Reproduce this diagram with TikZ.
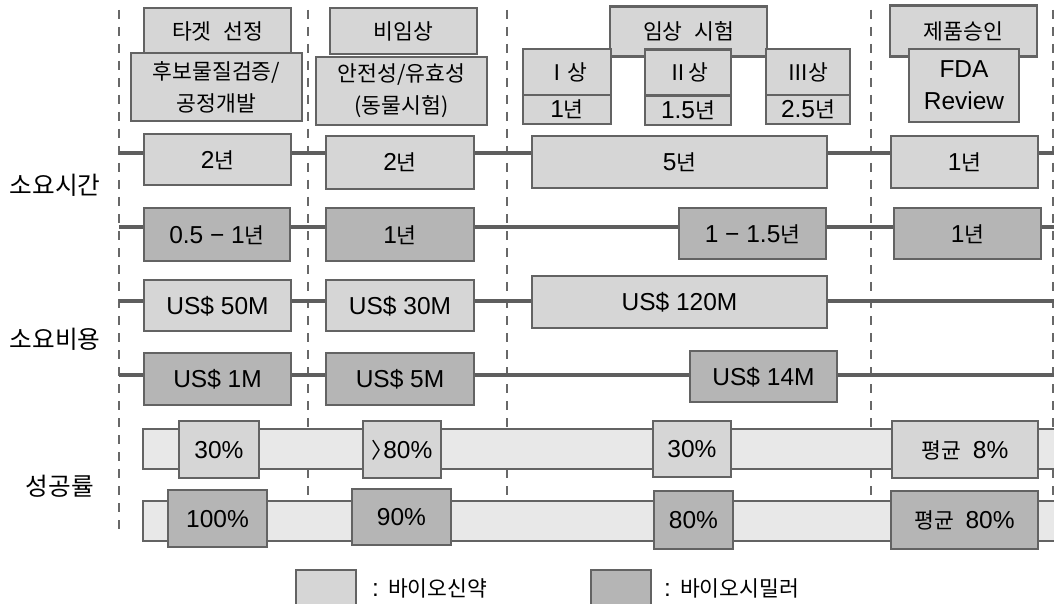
\documentclass[tikz,border=0pt]{standalone}
\usepackage{fontspec}
\setmainfont{Liberation Sans}
\newfontfamily\kr[Scale=0.88,WordSpace=2.4]{Noto Sans CJK KR}
\definecolor{bioC}{HTML}{D6D6D6}
\definecolor{simC}{HTML}{B5B5B5}
\definecolor{bandC}{HTML}{E8E8E8}
\definecolor{boxC}{HTML}{636363}
\definecolor{lineC}{HTML}{5E5E5E}
\definecolor{dashC}{HTML}{686868}
\begin{document}
\begin{tikzpicture}[x=1pt,y=-1pt,
  base/.style={draw=boxC, line width=2.8pt, inner sep=0pt, align=center,
    font=\fontsize{24.5}{32}\selectfont, text height=19pt, text depth=2pt},
  bio/.style={base, fill=bioC},
  sim/.style={base, fill=simC},
  kor/.style={font=\fontsize{24.5}{32}\selectfont\kr},
  twoline/.style={text height={}, text depth={}},
  sz/.style 2 args={minimum width=#1pt, minimum height=#2pt},
  rowline/.style={draw=lineC, line width=3.4pt},
  vline/.style={draw=dashC, line width=2.3pt, dash pattern=on 9pt off 8pt},
  bandst/.style={fill=bandC, draw=boxC, line width=2.8pt},
  lbl/.style={font=\fontsize{28}{32}\selectfont\kr, inner sep=0pt},
  lgtxt/.style={font=\fontsize{24.5}{28}\selectfont, inner sep=0pt, anchor=west}
]
\useasboundingbox (0,0) rectangle (1054,604);
\fill[white] (0,0) rectangle (1054,604);

% stage dividers
\foreach \x in {119,308,507,871,1053} \draw[vline] (\x,10) -- (\x,532);

% success-rate bands
\draw[bandst] (143,429) rectangle (1070,469);
\draw[bandst] (143,501) rectangle (1070,541);

% stage headers
\node[bio,kor,sz={147}{46}] (hTarget) at (217.5,31) {타겟 선정};
\node[bio,kor,twoline,sz={171}{68}] (sCand) at (216.5,87) {후보물질검증/\\공정개발};
\node[bio,kor,sz={147}{46}] (hPre) at (403.5,31) {비임상};
\node[bio,kor,twoline,sz={171}{68}] (sSafe) at (401.5,91) {안전성/유효성\\(동물시험)};
\node[bio,kor,sz={157}{50}] (hClin) at (688.5,31.5) {임상 시험};
\node[bio,kor,sz={88}{46}] (p1) at (567,72) {Ⅰ상};
\node[bio,sz={88}{29}] (p1y) at (567,109.5) {1{\kr 년}};
\node[bio,kor,sz={86}{46}] (p2) at (688,72.5) {Ⅱ상};
\node[bio,sz={86}{29}] (p2y) at (688,110.5) {1.5{\kr 년}};
\node[bio,kor,sz={84}{46}] (p3) at (808,72) {Ⅲ상};
\node[bio,sz={84}{29}] (p3y) at (808,109.5) {2.5{\kr 년}};
\node[bio,kor,sz={147}{51}] (hAppr) at (963.5,31) {제품승인};
\node[bio,twoline,sz={110}{73}] (sFDA) at (964,85.5) {FDA\\Review};

% row labels
\node[lbl] (labTime) at (55,185) {소요시간};
\node[lbl] (labCost) at (55,339) {소요비용};
\node[lbl] (labRate) at (60,486) {성공률};

% row 1: time, new biologics
\node[bio,sz={147}{51}] (a1) at (217.5,159.5) {2{\kr 년}};
\node[bio,sz={148}{53}] (a2) at (400,162.5) {2{\kr 년}};
\node[bio,sz={295}{52}] (a3) at (679.5,162) {5{\kr 년}};
\node[bio,sz={147}{52}] (a4) at (964.5,162) {1{\kr 년}};
% row 2: time, biosimilar
\node[sim,sz={146}{53}] (b1) at (217,234.5) {0.5 − 1{\kr 년}};
\node[sim,sz={148}{53}] (b2) at (400,234.5) {1{\kr 년}};
\node[sim,sz={147}{51}] (b3) at (752.5,233.5) {1 − 1.5{\kr 년}};
\node[sim,sz={147}{51}] (b4) at (967.5,233.5) {1{\kr 년}};
% row 3: cost, new biologics
\node[bio,sz={147}{51}] (c1) at (217.5,305.5) {US\$ 50M};
\node[bio,sz={148}{51}] (c2) at (400,305.5) {US\$ 30M};
\node[bio,sz={295}{52}] (c3) at (679.5,302) {US\$ 120M};
% row 4: cost, biosimilar
\node[sim,sz={147}{52}] (d1) at (217.5,379) {US\$ 1M};
\node[sim,sz={148}{52}] (d2) at (400,379) {US\$ 5M};
\node[sim,sz={147}{51}] (d3) at (763.5,376.5) {US\$ 14M};
% row 5: success, new biologics
\node[bio,sz={80}{57}] (e1) at (219,449.5) {30\%};
\node[bio,sz={78}{57}] (e2) at (402,449.5) {{\kr 〉}\kern-10pt 80\%};
\node[bio,sz={78}{56}] (e3) at (692,449) {30\%};
\node[bio,sz={146}{57}] (e4) at (965,449.5) {{\kr 평균 }8\%};
% row 6: success, biosimilar
\node[sim,sz={99}{57}] (f1) at (217.5,518.5) {100\%};
\node[sim,sz={99}{56}] (f2) at (401.5,517) {90\%};
\node[sim,sz={79}{58}] (f3) at (693.5,520) {80\%};
\node[sim,sz={147}{58}] (f4) at (964.5,520) {{\kr 평균 }80\%};

% row connector ends
\coordinate (L1) at (119,153); \coordinate (R1) at (1060,153);
\coordinate (L2) at (119,227); \coordinate (R2) at (1060,227);
\coordinate (L3) at (119,301); \coordinate (R3) at (1060,301);
\coordinate (L4) at (119,375); \coordinate (R4) at (1060,375);

\draw[rowline] (L1) -- (L1 -| a1.west);
\draw[rowline] (a1.east |- L1) -- (a2.west |- L1);
\draw[rowline] (a2.east |- L1) -- (a3.west |- L1);
\draw[rowline] (a3.east |- L1) -- (a4.west |- L1);
\draw[rowline] (a4.east |- L1) -- (R1);

\draw[rowline] (L2) -- (L2 -| b1.west);
\draw[rowline] (b1.east |- L2) -- (b2.west |- L2);
\draw[rowline] (b2.east |- L2) -- (b3.west |- L2);
\draw[rowline] (b3.east |- L2) -- (b4.west |- L2);
\draw[rowline] (b4.east |- L2) -- (R2);

\draw[rowline] (L3) -- (L3 -| c1.west);
\draw[rowline] (c1.east |- L3) -- (c2.west |- L3);
\draw[rowline] (c2.east |- L3) -- (c3.west |- L3);
\draw[rowline] (c3.east |- L3) -- (R3);

\draw[rowline] (L4) -- (L4 -| d1.west);
\draw[rowline] (d1.east |- L4) -- (d2.west |- L4);
\draw[rowline] (d2.east |- L4) -- (d3.west |- L4);
\draw[rowline] (d3.east |- L4) -- (R4);

% legend
\node[bio,sz={60}{42}] (lgBio) at (326,591) {};
\node[lgtxt] (lgBioT) at (372,588) {: {\kr 바이오신약}};
\node[sim,sz={60}{42}] (lgSim) at (621,591) {};
\node[lgtxt] (lgSimT) at (664,588) {: {\kr 바이오시밀러}};
\end{tikzpicture}
\end{document}
